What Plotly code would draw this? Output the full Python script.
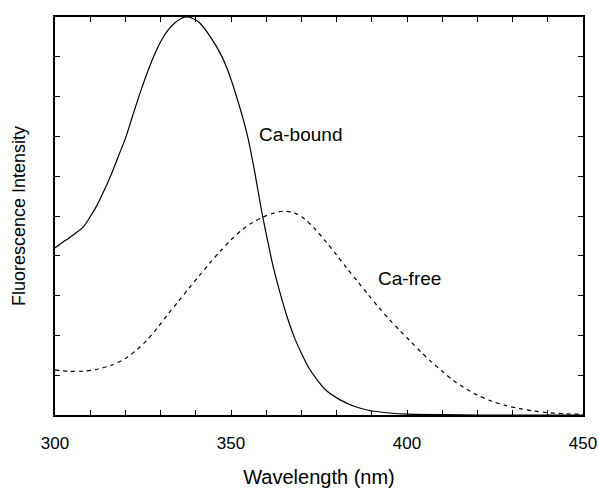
import plotly.graph_objects as go

# Ca-bound emission (solid)
wl_bound = [300, 302, 304, 306, 308, 310, 312, 314, 316, 318, 320, 322, 324, 326, 328,
            330, 332, 334, 336, 337.5, 339, 341, 344, 347, 349, 351.5, 354.5, 356.5,
            358.5, 360, 362, 364, 366, 368, 370, 372, 374.5, 377, 381, 385, 389, 395,
            400, 410, 420, 435, 450]
int_bound = [4.20, 4.33, 4.45, 4.58, 4.72, 4.98, 5.28, 5.65, 6.05, 6.50, 6.95, 7.50, 8.05,
             8.55, 9.00, 9.38, 9.66, 9.85, 9.97, 10.0, 9.97, 9.86, 9.52, 9.08, 8.68, 8.02,
             7.08, 6.22, 5.22, 4.55, 3.72, 3.05, 2.45, 1.95, 1.55, 1.20, 0.88, 0.62, 0.38,
             0.22, 0.12, 0.05, 0.02, 0.01, 0.0, 0.0, 0.0]

# Ca-free emission (dashed)
wl_free = [300, 304, 308, 312, 316, 320, 323, 326, 329, 332, 335, 338, 341, 344, 347, 350,
           353, 356, 359, 362, 365, 368, 371, 374, 377, 380, 383, 386, 389, 392, 395, 398,
           401, 404, 407, 410, 413, 416, 420, 424, 428, 432, 436, 440, 445, 450]
int_free = [1.13, 1.10, 1.10, 1.15, 1.25, 1.42, 1.62, 1.87, 2.18, 2.52, 2.85, 3.18, 3.50,
            3.82, 4.12, 4.40, 4.64, 4.83, 4.97, 5.07, 5.12, 5.08, 4.92, 4.66, 4.35, 4.02,
            3.68, 3.35, 3.02, 2.70, 2.40, 2.12, 1.85, 1.58, 1.33, 1.10, 0.88, 0.70, 0.50,
            0.35, 0.24, 0.16, 0.10, 0.06, 0.03, 0.02]

x_ticks = list(range(300, 451, 10))
x_labels = [str(v) if v % 50 == 0 else '' for v in x_ticks]

fig = go.Figure()
fig.add_trace(go.Scatter(x=wl_bound, y=int_bound, mode='lines',
                         line=dict(color='black', width=1.2, shape='spline', smoothing=0.8),
                         name='Ca-bound'))
fig.add_trace(go.Scatter(x=wl_free, y=int_free, mode='lines',
                         line=dict(color='black', width=1.2, dash='4px,4px', shape='spline',
                                   smoothing=0.8),
                         name='Ca-free'))

fig.add_annotation(x=357.4, y=7.05, text='Ca-bound', showarrow=False, xanchor='left',
                   font=dict(size=19, color='black'))
fig.add_annotation(x=391.2, y=3.42, text='Ca-free', showarrow=False, xanchor='left',
                   font=dict(size=19, color='black'))

fig.update_layout(
    width=598, height=489,
    margin=dict(l=55, r=15, t=17, b=74),
    plot_bgcolor='white', paper_bgcolor='white',
    showlegend=False,
    font=dict(family='Liberation Sans, Arial, sans-serif', size=17, color='black'),
)
fig.update_xaxes(range=[300, 450], tickvals=x_ticks, ticktext=x_labels, automargin=False,
                 ticks='inside', ticklen=5, tickcolor='black', showline=True,
                 linecolor='black', linewidth=1.5, mirror='ticks', showgrid=False,
                 zeroline=False, ticklabelstandoff=12,
                 title=dict(text='Wavelength (nm)', standoff=18))
fig.update_yaxes(range=[0, 10], dtick=1, showticklabels=False, ticks='inside', ticklen=5,
                 automargin=False, tickcolor='black', showline=True, linecolor='black',
                 linewidth=1.5, mirror='ticks', showgrid=False, zeroline=False,
                 title=dict(text='Fluorescence Intensity', standoff=23, font=dict(size=18)))

fig.write_html("out.html", config={'displayModeBar': False},
               post_script="document.body.style.margin='0';")
